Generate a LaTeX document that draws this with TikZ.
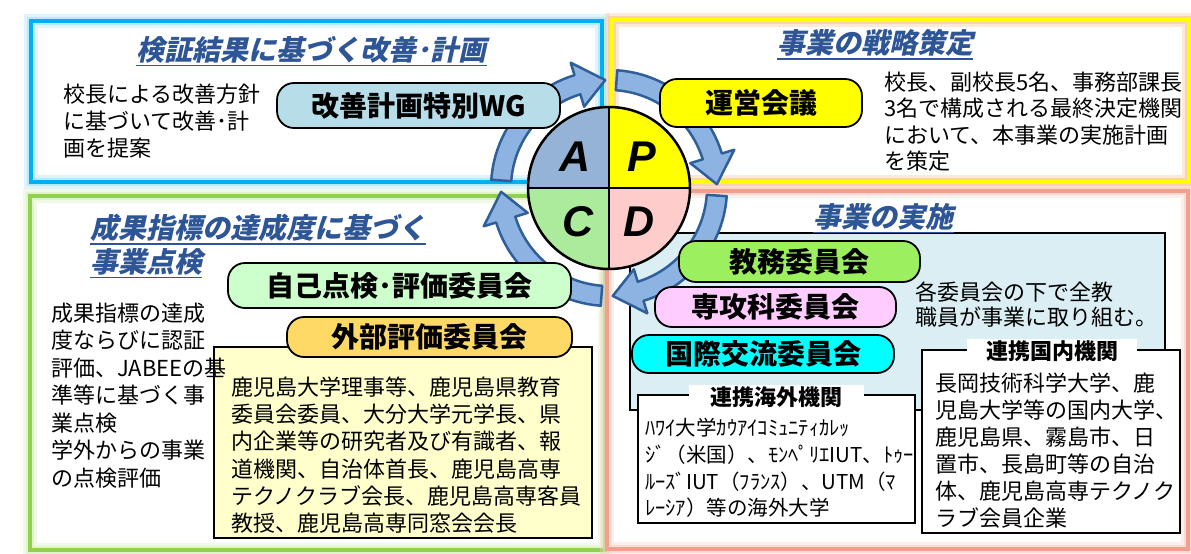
\documentclass[tikz,border=0pt]{standalone}
\usepackage{fontspec}
\newfontfamily\jp{Noto Sans CJK JP}
\newfontfamily\jpsl{Noto Sans CJK JP}[FakeSlant=0.22]
\newfontfamily\lat{Liberation Sans}
\definecolor{tcol}{HTML}{2E5596}
\definecolor{bluebd}{HTML}{00B0F0}
\definecolor{blueglow}{HTML}{9FE2F9}
\definecolor{yelbd}{HTML}{FFFF00}
\definecolor{yelglow}{HTML}{FAC08F}
\definecolor{grnbd}{HTML}{92D050}
\definecolor{grnglow}{HTML}{D4EFB8}
\definecolor{pnkbd}{HTML}{F2A08E}
\definecolor{pnkglow}{HTML}{F9CFC6}
\definecolor{qa}{HTML}{95B3D7}
\definecolor{qp}{HTML}{FFFF00}
\definecolor{qc}{HTML}{ACEA9C}
\definecolor{qd}{HTML}{FFCCCC}
\definecolor{arrfill}{HTML}{8DB3E2}
\definecolor{arrline}{HTML}{2F5F98}
\definecolor{wgfill}{HTML}{B7DDE8}
\definecolor{jikofill}{HTML}{CCFFCC}
\definecolor{gaibufill}{HTML}{FFD966}
\definecolor{ltyel}{HTML}{FFFFCC}
\definecolor{ltblue}{HTML}{DAEEF3}
\definecolor{kyomufill}{HTML}{9CF060}
\definecolor{senkofill}{HTML}{FFCCFF}
\definecolor{kokufill}{HTML}{00FFFF}
\newcommand\cycarr[2]{%
  \pgfmathsetmacro\hbase{#2+15}%
  \draw[cycarrow] plot[domain=#1:\hbase, samples=24] (\x:118) -- (\hbase:131) -- (#2:108) -- (\hbase:85) -- plot[domain=\hbase:#1, samples=24] (\x:98) -- cycle;}
\begin{document}
\begin{tikzpicture}[x=1pt,y=-1pt,
  pill/.style={draw=black, line width=1.8pt, rounded corners=17pt, font=\jp\bfseries\fontsize{28}{28}\selectfont, inner sep=0pt},
  ttl/.style={font=\jpsl\bfseries\fontsize{28}{32}\selectfont, text=tcol, inner sep=0pt},
  uline/.style={draw=tcol, line width=1.6pt},
  body/.style={font=\jp\fontsize{22}{27}\selectfont, align=left, inner sep=0pt, anchor=west},
  lab/.style={fill=white, font=\jp\bfseries\fontsize{22}{22}\selectfont, inner sep=0pt},
  boxed/.style={draw=black, line width=1.6pt, inner sep=0pt},
  letter/.style={font=\lat\bfseries\itshape\fontsize{43}{43}\selectfont, inner sep=0pt},
  cycarrow/.style={fill=arrfill, draw=arrline, line width=2.5pt, line join=round},
  glowA/.style={line width=14pt, opacity=0.35},
  glowB/.style={line width=8pt, opacity=0.55},
  border/.style={line width=3.5pt}]
\useasboundingbox (0,0) rectangle (1191,554);
\fill[white] (0,0) rectangle (1191,554);
% panels
\draw[glowA, blueglow] (31,21) rectangle (602,182);
\draw[glowB, blueglow] (31,21) rectangle (602,182);
\draw[border, bluebd] (31,21) rectangle (602,182);
\draw[glowA, yelglow] (612,20) rectangle (1189,182);
\draw[glowB, yelglow] (612,20) rectangle (1189,182);
\draw[border, yelbd] (612,20) rectangle (1189,182);
\draw[glowA, grnglow] (30,196) rectangle (605,550);
\draw[glowB, grnglow] (30,196) rectangle (605,550);
\draw[border, grnbd] (30,196) rectangle (605,550);
\draw[glowA, pnkglow] (607,191) rectangle (1188,549);
\draw[glowB, pnkglow] (607,191) rectangle (1188,549);
\draw[border, pnkbd] (607,191) rectangle (1188,549);
% boxes behind
\node[boxed, fill=ltblue, minimum width=535pt, minimum height=177pt] (bluebox) at (897.5,321.5) {};
\node[boxed, fill=ltyel, minimum width=378pt, minimum height=191pt] (yelbox) at (403,442.5) {};
% PDCA circle
\node[circle, minimum size=162pt, inner sep=0pt] (pdca) at (609,188) {};
\begin{scope}
\clip (609,188) circle[radius=81pt];
\fill[qa] (526,105) rectangle (609,188);
\fill[qp] (609,105) rectangle (692,188);
\fill[qc] (526,188) rectangle (609,271);
\fill[qd] (609,188) rectangle (692,271);
\end{scope}
\draw[line width=2.5pt] (pdca.west) -- (pdca.east);
\draw[line width=2.5pt] (pdca.north) -- (pdca.south);
\draw[line width=2.5pt] (pdca.center) circle[radius=81pt];
\node[letter] (lA) at (575,157) {A};
\node[letter] (lP) at (642,157) {P};
\node[letter] (lC) at (578,222) {C};
\node[letter] (lD) at (639,222) {D};
% cycle arrows
\begin{scope}[shift={(609,188)}, yscale=-1]
\cycarr{176}{92}
\cycarr{86}{2}
\cycarr{-4}{-88}
\cycarr{-94}{-178}
\end{scope}
% top-left
\node[ttl] (t1) at (311.5,50) {検証結果に基づく改善･計画};
\draw[uline] ([yshift=-2pt]t1.south west) -- ([yshift=-2pt]t1.south east);
\node[body] (b1) at (63,121) {校長による改善方針\\に基づいて改善･計\\画を提案};
\node[pill, fill=wgfill, minimum width=283pt, minimum height=45pt] (wg) at (418.5,105.5) {改善計画特別WG};
% top-right
\node[ttl] (t2) at (875,43) {事業の戦略策定};
\draw[uline] ([yshift=-2pt]t2.south west) -- ([yshift=-2pt]t2.south east);
\node[pill, fill=yelbd, minimum width=202pt, minimum height=48pt] (unei) at (761,103) {運営会議};
\node[body, font=\jp\fontsize{22}{26.5}\selectfont] (b2) at (884,121.5) {校長、副校長5名、事務部課長\\3名で構成される最終決定機関\\において、本事業の実施計画\\を策定};
% bottom-left
\node[ttl, anchor=west] (t3a) at (90,228) {成果指標の達成度に基づく};
\draw[uline] ([yshift=-2pt]t3a.south west) -- ([yshift=-2pt]t3a.south east);
\node[ttl, anchor=west] (t3b) at (90,262) {事業点検};
\draw[uline] ([yshift=-2pt]t3b.south west) -- ([yshift=-2pt]t3b.south east);
\node[body, font=\jp\fontsize{22}{27.5}\selectfont] (b3) at (51,395.5) {成果指標の達成\\度ならびに認証\\評価、JABEEの基\\準等に基づく事\\業点検\\学外からの事業\\の点検評価};
\node[pill, fill=jikofill, minimum width=343pt, minimum height=45pt] (jiko) at (399.5,285.5) {自己点検･評価委員会};
\node[pill, fill=gaibufill, minimum width=285pt, minimum height=40pt] (gaibu) at (429.5,337) {外部評価委員会};
\node[body, font=\jp\fontsize{22}{27.3}\selectfont] (b4) at (231,455) {鹿児島大学理事等、鹿児島県教育\\委員会委員、大分大学元学長、県\\内企業等の研究者及び有識者、報\\道機関、自治体首長、鹿児島高専\\テクノクラブ会長、鹿児島高専客員\\教授、鹿児島高専同窓会会長};
% bottom-right
\node[ttl] (t4) at (883.5,217) {事業の実施};
\draw[uline] ([yshift=-2pt]t4.south west) -- ([yshift=-2pt]t4.south east);
\node[boxed, fill=white, minimum width=277pt, minimum height=128pt] (kaigai) at (776.5,459) {};
\node[boxed, fill=white, minimum width=258pt, minimum height=183pt] (kokunai) at (1051,441.5) {};
\node[pill, fill=kyomufill, minimum width=241pt, minimum height=41pt] (kyomu) at (799.5,261.5) {教務委員会};
\node[pill, fill=senkofill, minimum width=241pt, minimum height=40pt] (senko) at (775.5,307) {専攻科委員会};
\node[pill, fill=kokufill, minimum width=262pt, minimum height=38pt] (koku) at (763,354) {国際交流委員会};
\node[body, font=\jp\fontsize{22}{25}\selectfont] (b5) at (915,305) {各委員会の下で全教\\職員が事業に取り組む。};
\node[lab, minimum width=175pt, minimum height=25pt] (kaigaiL) at (776,397) {連携海外機関};
\node[lab, minimum width=170pt, minimum height=25pt] (kokunaiL) at (1052,351) {連携国内機関};
\node[body, font=\jp\fontsize{20.5}{26.7}\selectfont] (b6) at (645,468) {ﾊﾜｲ大学ｶｳｱｲｺﾐｭﾆﾃｨｶﾚｯ\\ｼﾞ（米国）、ﾓﾝﾍﾟﾘｴIUT、ﾄｩｰ\\ﾙｰｽﾞIUT（ﾌﾗﾝｽ）、UTM（ﾏ\\ﾚｰｼｱ）等の海外大学};
\node[body, font=\jp\fontsize{22}{27}\selectfont] (b7) at (935,450.5) {長岡技術科学大学、鹿\\児島大学等の国内大学、\\鹿児島県、霧島市、日\\置市、長島町等の自治\\体、鹿児島高専テクノク\\ラブ会員企業};
\end{tikzpicture}
\end{document}
